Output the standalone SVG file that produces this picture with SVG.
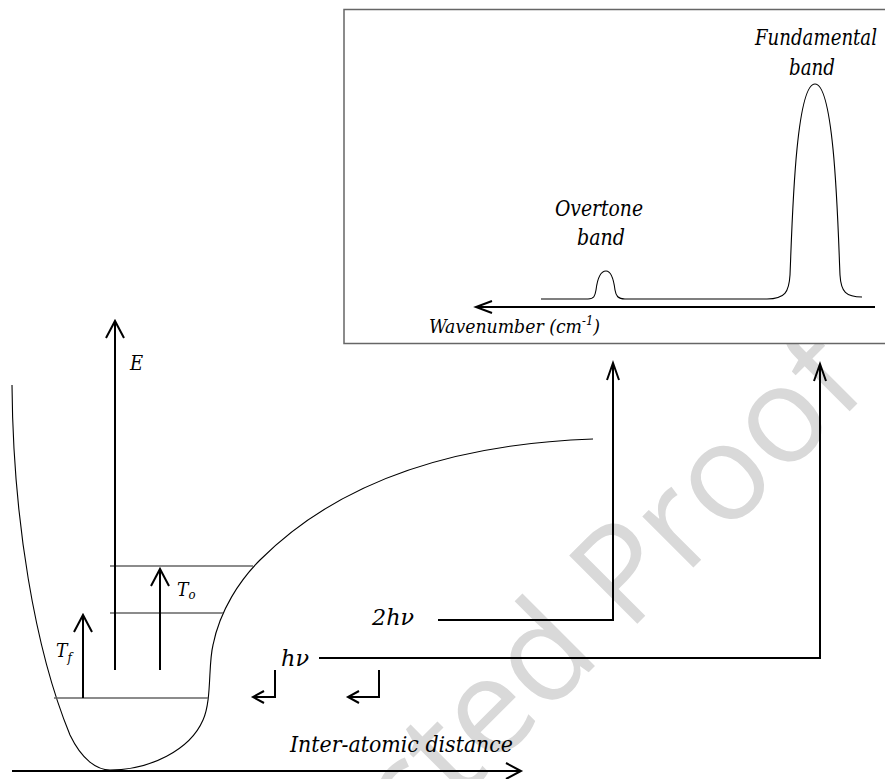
<svg xmlns="http://www.w3.org/2000/svg" width="885" height="779" viewBox="0 0 885 779">
<style>
.thin{fill:none;stroke:#000;stroke-width:1.1}
.ln{fill:none;stroke:#000;stroke-width:2}
.lv{fill:none;stroke:#666;stroke-width:1.5}
.tx{font-family:"DejaVu Serif",serif;font-style:italic;font-stretch:condensed;fill:#000}
</style>
<rect width="885" height="779" fill="#fff"/>
<g id="watermark">
<text font-family="Open Sans, Liberation Sans, sans-serif" fill="#d9d9d9" font-size="135" transform="translate(629,632) rotate(-45)" x="-821" y="0">Uncorrected Proof</text>
</g>
<g id="spectrum-box">
<rect x="344" y="9.5" width="560" height="334" fill="#fff" stroke="#666" stroke-width="1.5"/>
<text class="tx" font-size="22" x="816" y="45" text-anchor="middle" textLength="122" lengthAdjust="spacingAndGlyphs">Fundamental</text>
<text class="tx" font-size="22" x="812" y="75" text-anchor="middle" textLength="46" lengthAdjust="spacingAndGlyphs">band</text>
<text class="tx" font-size="23" x="599" y="216" text-anchor="middle" textLength="88" lengthAdjust="spacingAndGlyphs">Overtone</text>
<text class="tx" font-size="23" x="601" y="245" text-anchor="middle" textLength="48" lengthAdjust="spacingAndGlyphs">band</text>
<path class="thin" d="M541,299 L588,299 C594,299 595,296 596,290 C597,282 599,271 606,271 C612,271 614,282 615,290 C616,296 618,299 625,299 L767,299 C785,299 789,292 790,275 C792,230 795,84 815,84 C835,84 838,230 840,275 C841,292 846,297 862,297"/>
<path class="ln" stroke-width="1.6" d="M875,307 L476,307 M492,301 L476,307 L492,313"/>
<text class="tx" font-size="18" x="429" y="333" textLength="171" lengthAdjust="spacingAndGlyphs">Wavenumber (cm<tspan font-size="12" dy="-8">-1</tspan><tspan dy="8">)</tspan></text>
</g>
<g id="potential-well">
<path class="thin" d="M12,385 C13,520 35,650 70,735 C82,760 97,770 110,770 C150,770 190,750 203,720 C212,700 208,665 213,645 C220,610 240,580 260,560 C320,500 420,445 593,439"/>
<path class="lv" d="M54,698 L208,698 M110,613 L223,613 M110,566 L253,566"/>
</g>
<g id="energy-axis">
<path class="ln" d="M115,670 L115,321 M106,338 L115,321 L124,338"/>
<text class="tx" font-size="20" x="130" y="370">E</text>
</g>
<g id="distance-axis">
<path class="ln" d="M12,771 L521,771 M506,763 L521,771 L506,779"/>
<text class="tx" font-size="23" x="290" y="752" textLength="223" lengthAdjust="spacingAndGlyphs">Inter-atomic distance</text>
</g>
<g id="transition-f">
<path class="ln" d="M83,698 L83,615 M74,632 L83,615 L92,632"/>
<text class="tx" font-size="19" x="56" y="657">T<tspan font-size="13" dy="5">f</tspan></text>
</g>
<g id="transition-o">
<path class="ln" d="M160,670 L160,569 M151,586 L160,569 L169,586"/>
<text class="tx" font-size="19" x="177" y="596">T<tspan font-size="13" dy="3">o</tspan></text>
</g>
<g id="photons">
<path class="ln" stroke-width="1.6" d="M275,670 L275,697 L253,697 M264,691 L253,697 L264,703"/>
<path class="ln" stroke-width="1.6" d="M379,670 L379,697 L348,697 M359,691 L348,697 L359,703"/>
<text class="tx" font-size="23" x="281" y="666" textLength="28" lengthAdjust="spacingAndGlyphs">hν</text>
<text class="tx" font-size="23" x="372" y="625" textLength="42" lengthAdjust="spacingAndGlyphs">2hν</text>
</g>
<g id="connectors">
<path class="ln" d="M319,658 L820,658 L820,364 M814,381 L820,364 L826,381"/>
<path class="ln" d="M438,620 L613,620 L613,363 M607,380 L613,363 L619,380"/>
</g>
</svg>
